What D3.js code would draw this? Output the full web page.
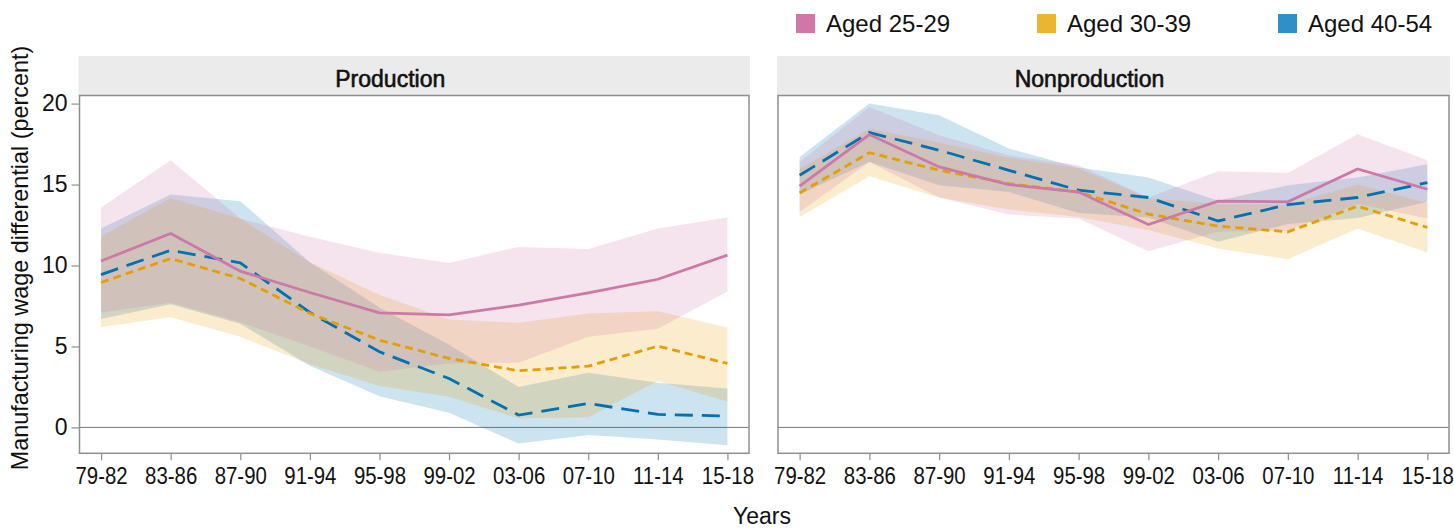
<!DOCTYPE html>
<html>
<head>
<meta charset="utf-8">
<script src="https://cdn.jsdelivr.net/npm/d3@7"></script>
<style>
  body { margin: 0; background: #fff; }
  svg { display: block; font-family: "Liberation Sans", Arial, Helvetica, sans-serif; }
</style>
</head>
<body>
<svg id="chart" width="1454" height="529"></svg>
<script>
// Four-year periods on the x axis
const periods = ["79-82","83-86","87-90","91-94","95-98","99-02","03-06","07-10","11-14","15-18"];
const groups = ["Aged 25-29","Aged 30-39","Aged 40-54"];
const lineColors = ["#cc79a7","#e69f00","#0072b2"];
const legendColors = ["#d077a8","#edb432","#2f8fc6"];
const dashes = [null, "8,5", "18,9"];
const yTicks = [0, 5, 10, 15, 20];

// Production workers: estimate with lower / upper bounds
const prod25    = [10.28, 11.98, 9.65, 8.33, 7.07, 6.95, 7.55, 8.31, 9.15, 10.64];
const prod25Lo  = [7.1, 7.7, 6.5, 5.0, 3.43, 3.95, 4.0, 5.6, 6.1, 8.4];
const prod25Hi  = [13.58, 16.5, 12.9, 11.77, 10.78, 10.16, 11.15, 11.02, 12.28, 12.96];
const prod30    = [8.95, 10.43, 9.2, 7.04, 5.39, 4.26, 3.5, 3.78, 5.02, 3.95];
const prod30Lo  = [6.2, 6.8, 5.6, 3.9, 2.55, 1.9, 0.55, 0.62, 2.86, 1.58];
const prod30Hi  = [11.8, 14.17, 12.9, 10.2, 8.2, 6.67, 6.46, 7.04, 7.18, 6.17];
const prod40    = [9.44, 10.94, 10.16, 7.1, 4.67, 3.02, 0.76, 1.48, 0.8, 0.7];
const prod40Lo  = [6.7, 7.6, 6.4, 3.8, 1.93, 0.9, -1.0, -0.47, -0.74, -1.1];
const prod40Hi  = [12.28, 14.38, 13.97, 10.2, 7.4, 5.1, 2.5, 3.37, 2.75, 2.4];

// Nonproduction workers: estimate with lower / upper bounds
const nonp25    = [14.91, 18.09, 16.09, 15.0, 14.54, 12.53, 13.97, 13.93, 15.96, 14.71];
const nonp25Lo  = [13.3, 16.4, 14.2, 13.15, 12.9, 10.88, 12.1, 12.14, 13.8, 12.9];
const nonp25Hi  = [16.4, 19.79, 18.04, 16.8, 16.19, 14.2, 15.82, 15.72, 18.1, 16.5];
const nonp30    = [14.48, 16.97, 15.88, 15.06, 14.54, 13.17, 12.43, 12.08, 13.66, 12.35];
const nonp30Lo  = [13.0, 15.51, 14.2, 13.46, 13.0, 12.18, 11.05, 10.39, 12.28, 10.8];
const nonp30Hi  = [15.96, 18.45, 17.6, 16.66, 16.0, 14.16, 13.8, 13.77, 15.0, 13.86];
const nonp40    = [15.57, 18.21, 17.12, 15.88, 14.65, 14.2, 12.75, 13.76, 14.2, 15.12];
const nonp40Lo  = [14.4, 16.4, 14.96, 14.54, 13.25, 12.97, 11.46, 12.56, 12.94, 13.93];
const nonp40Hi  = [16.7, 20.0, 19.28, 17.22, 16.05, 15.43, 14.0, 14.96, 15.43, 16.25];

const panels = [
  { title: "Production", left: 79.5, right: 749,
    series: [[prod25, prod25Lo, prod25Hi], [prod30, prod30Lo, prod30Hi], [prod40, prod40Lo, prod40Hi]] },
  { title: "Nonproduction", left: 778, right: 1449,
    series: [[nonp25, nonp25Lo, nonp25Hi], [nonp30, nonp30Lo, nonp30Hi], [nonp40, nonp40Lo, nonp40Hi]] }
];

const svg = d3.select("#chart");
const plotTop = 95.5, plotBottom = 453.3;
const stripTop = 56;
const y = d3.scaleLinear().domain([-1.6, 20.5]).range([plotBottom, plotTop]);

panels.forEach((p, pi) => {
  const x = d3.scalePoint().domain(periods).range([p.left, p.right]).padding(0.31);
  const g = svg.append("g");

  // facet strip
  g.append("rect")
    .attr("x", p.left - 1).attr("y", stripTop)
    .attr("width", p.right - p.left + 2).attr("height", plotTop - stripTop)
    .attr("fill", "#ebebeb");
  g.append("text")
    .attr("x", (p.left + p.right) / 2 - 24).attr("y", 87)
    .attr("text-anchor", "middle")
    .attr("font-size", 23).attr("fill", "#111")
    .attr("stroke", "#111").attr("stroke-width", 0.6)
    .text(p.title);

  // zero reference line
  g.append("line")
    .attr("x1", p.left).attr("x2", p.right)
    .attr("y1", y(0)).attr("y2", y(0))
    .attr("stroke", "#777").attr("stroke-width", 1);

  // uncertainty bands (oldest group underneath, youngest on top)
  [2, 1, 0].forEach(si => {
    const [mid, lo, hi] = p.series[si];
    const rows = periods.map((d, i) => ({ d, lo: lo[i], hi: hi[i] }));
    g.append("path")
      .datum(rows)
      .attr("fill", lineColors[si]).attr("fill-opacity", 0.2)
      .attr("d", d3.area().x(r => x(r.d)).y0(r => y(r.lo)).y1(r => y(r.hi)));
  });

  // estimate lines
  [2, 1, 0].forEach(si => {
    const mid = p.series[si][0];
    const rows = periods.map((d, i) => ({ d, v: mid[i] }));
    g.append("path")
      .datum(rows)
      .attr("fill", "none")
      .attr("stroke", lineColors[si]).attr("stroke-width", 2.8)
      .attr("stroke-dasharray", dashes[si])
      .attr("d", d3.line().x(r => x(r.d)).y(r => y(r.v)));
  });

  // panel border
  g.append("rect")
    .attr("x", p.left).attr("y", plotTop)
    .attr("width", p.right - p.left).attr("height", plotBottom - plotTop)
    .attr("fill", "none").attr("stroke", "#8f8f8f").attr("stroke-width", 1.5);

  // x axis
  const xa = g.append("g").attr("transform", `translate(0,${plotBottom})`)
    .call(d3.axisBottom(x).tickSize(7).tickPadding(6));
  xa.select(".domain").remove();
  xa.selectAll(".tick line").attr("stroke", "#8f8f8f").attr("stroke-width", 1.2);
  xa.selectAll(".tick text")
    .attr("font-size", 24).attr("fill", "#111")
    .attr("font-family", "\"Liberation Sans\", Arial, sans-serif")
    .attr("transform", "scale(0.85,1)")
    .attr("dy", "0.72em");

  // y axis (left panel only)
  if (pi === 0) {
    const ya = g.append("g").attr("transform", `translate(${p.left},0)`)
      .call(d3.axisLeft(y).tickValues(yTicks).tickSize(8).tickPadding(4));
    ya.select(".domain").remove();
    ya.selectAll(".tick line").attr("stroke", "#8f8f8f").attr("stroke-width", 1.2);
    ya.selectAll(".tick text")
      .attr("font-size", 23).attr("fill", "#111")
      .attr("font-family", "\"Liberation Sans\", Arial, sans-serif");
  }
});

// axis titles
svg.append("text")
  .attr("transform", "translate(28,258) rotate(-90)")
  .attr("text-anchor", "middle")
  .attr("font-size", 23.4).attr("fill", "#111")
  .text("Manufacturing wage differential (percent)");
svg.append("text")
  .attr("x", 762).attr("y", 524)
  .attr("text-anchor", "middle")
  .attr("font-size", 23).attr("fill", "#111")
  .text("Years");

// legend
const legendX = [796, 1037, 1278];
const lg = svg.append("g");
groups.forEach((name, i) => {
  lg.append("rect")
    .attr("x", legendX[i]).attr("y", 14)
    .attr("width", 19).attr("height", 19)
    .attr("fill", legendColors[i]);
  lg.append("text")
    .attr("x", legendX[i] + 30).attr("y", 32)
    .attr("font-size", 24).attr("fill", "#111")
    .text(name);
});
</script>
</body>
</html>
